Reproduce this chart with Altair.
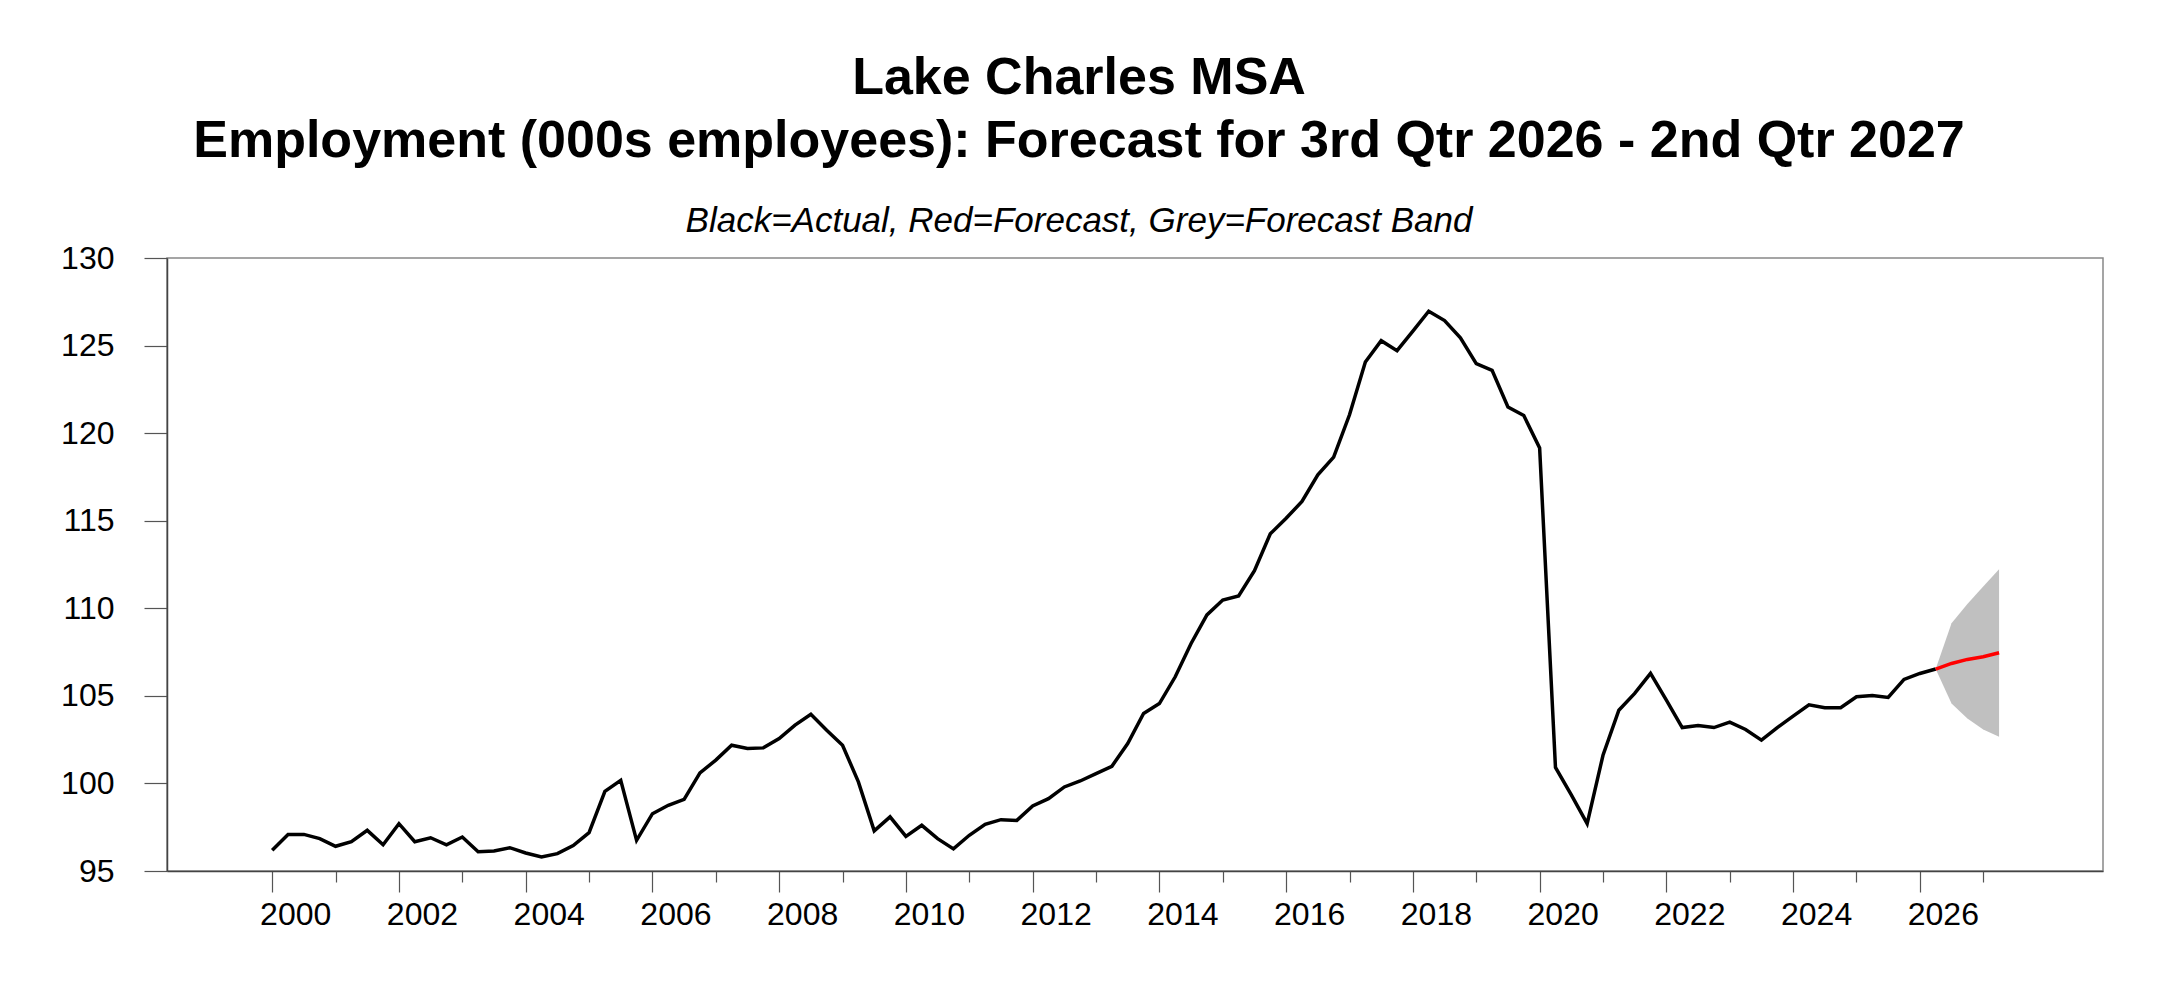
import altair as alt
import pandas as pd

# Quarterly actual employment (000s), 2000Q1 .. 2026Q2
actual_values = [
    96.18, 97.09, 97.09, 96.85,   # 2000
    96.41, 96.67, 97.32, 96.50,   # 2001
    97.70, 96.67, 96.90, 96.50,   # 2002
    96.94, 96.10, 96.14, 96.33,   # 2003
    96.03, 95.80, 95.99, 96.45,   # 2004
    97.19, 99.55, 100.18, 96.75,  # 2005
    98.27, 98.75, 99.09, 100.60,  # 2006
    101.33, 102.18, 101.99, 102.03,  # 2007
    102.56, 103.33, 103.95, 103.04,  # 2008
    102.18, 100.09, 97.29, 98.09,  # 2009
    96.98, 97.61, 96.85, 96.26,   # 2010
    97.04, 97.67, 97.93, 97.89,   # 2011
    98.71, 99.13, 99.80, 100.14,  # 2012
    100.56, 100.98, 102.28, 103.99,  # 2013
    104.56, 106.09, 107.99, 109.62,  # 2014
    110.47, 110.70, 112.15, 114.25,  # 2015
    115.14, 116.10, 117.62, 118.63,  # 2016
    121.05, 124.06, 125.28, 124.71,  # 2017
    125.82, 126.96, 126.43, 125.44,  # 2018
    123.97, 123.59, 121.49, 121.01,  # 2019
    119.15, 100.91, 99.35, 97.70,    # 2020
    101.61, 104.18, 105.14, 106.28,  # 2021
    104.76, 103.19, 103.31, 103.19,  # 2022
    103.50, 103.08, 102.47, 103.19,  # 2023
    103.84, 104.49, 104.32, 104.32,  # 2024
    104.95, 105.02, 104.91, 105.94,  # 2025
    106.28, 106.53,                  # 2026 Q1-Q2
]

# Forecast 2026Q2 (join point) .. 2027Q2
forecast_quarters = ["2026Q2", "2026Q3", "2026Q4", "2027Q1", "2027Q2"]
forecast_values = [106.53, 106.85, 107.08, 107.23, 107.46]
band_high = [106.53, 109.14, 110.25, 111.25, 112.23]
band_low = [106.53, 104.56, 103.71, 103.08, 102.66]

even_years = list(range(2000, 2027, 2))
odd_years = list(range(2001, 2028, 2))
y_ticks = [95, 100, 105, 110, 115, 120, 125, 130]


def q_to_t(q):
    return int(q[:4]) + (int(q[5]) - 1) / 4.0


actual_quarters = [f"{2000 + i // 4}Q{i % 4 + 1}" for i in range(len(actual_values))]
df_act = pd.DataFrame({"q": actual_quarters, "t": [q_to_t(q) for q in actual_quarters],
                       "v": actual_values})
df_fc = pd.DataFrame({"q": forecast_quarters, "t": [q_to_t(q) for q in forecast_quarters],
                      "v": forecast_values, "hi": band_high, "lo": band_low})

FONT = "Liberation Sans"
xscale = alt.Scale(domain=[1998.34, 2028.89], nice=False, zero=False)
yscale = alt.Scale(domain=[95, 130], nice=False, zero=False)


def yaxis():
    return alt.Axis(values=y_ticks, tickSize=23, labelPadding=30, grid=False,
                    domainColor="#444", tickColor="#555", labelFont=FONT,
                    labelFontSize=32, labelColor="black", tickWidth=1.2,
                    domainWidth=1.5, orient="left")


band = alt.Chart(df_fc).mark_area(color="#c0c0c0", opacity=1).encode(
    x=alt.X("t:Q", scale=xscale, title=None,
            axis=alt.Axis(values=even_years, format="d", tickSize=21, labelPadding=7,
                          labelOffset=23, orient="bottom", domainColor="#444",
                          tickColor="#555", grid=False, labelFont=FONT,
                          labelFontSize=32, labelColor="black", tickWidth=1.2,
                          domainWidth=1.5)),
    y=alt.Y("lo:Q", scale=yscale, title=None, axis=yaxis()),
    y2="hi:Q",
)

actual = alt.Chart(df_act).mark_line(color="black", strokeWidth=3.5).encode(
    x=alt.X("t:Q", scale=xscale, axis=None),
    y=alt.Y("v:Q", scale=yscale, title=None, axis=yaxis()),
)

forecast = alt.Chart(df_fc).mark_line(color="#ff0000", strokeWidth=3.5).encode(
    x=alt.X("t:Q", scale=xscale, title=None,
            axis=alt.Axis(values=odd_years, tickSize=11, labels=False, domain=False,
                          orient="bottom", tickColor="#555", grid=False,
                          tickWidth=1.2)),
    y=alt.Y("v:Q", scale=yscale, title=None, axis=yaxis()),
)

chart = (
    alt.layer(band, actual, forecast)
    .resolve_scale(x="shared", y="shared")
    .resolve_axis(x="independent", y="shared")
    .properties(
        width=1936,
        height=613,
        background="white",
        padding={"left": 159, "top": 250, "right": 47, "bottom": 103},
        autosize=alt.AutoSizeParams(type="none"),
        title=alt.TitleParams(
            text=["Lake Charles MSA",
                  "Employment (000s employees): Forecast for 3rd Qtr 2026 - 2nd Qtr 2027"],
            subtitle="Black=Actual, Red=Forecast, Grey=Forecast Band",
            font=FONT, fontSize=52, fontWeight="bold", color="black", lineHeight=63,
            subtitleFont=FONT, subtitleFontSize=35, subtitleFontStyle="italic",
            subtitleColor="black", subtitlePadding=36,
            anchor="middle", offset=2, dx=-56,
        ),
    )
    .configure_view(stroke="#888", strokeWidth=1.5)
)

chart.save("out.html", embed_options={"renderer": "svg", "actions": False})
